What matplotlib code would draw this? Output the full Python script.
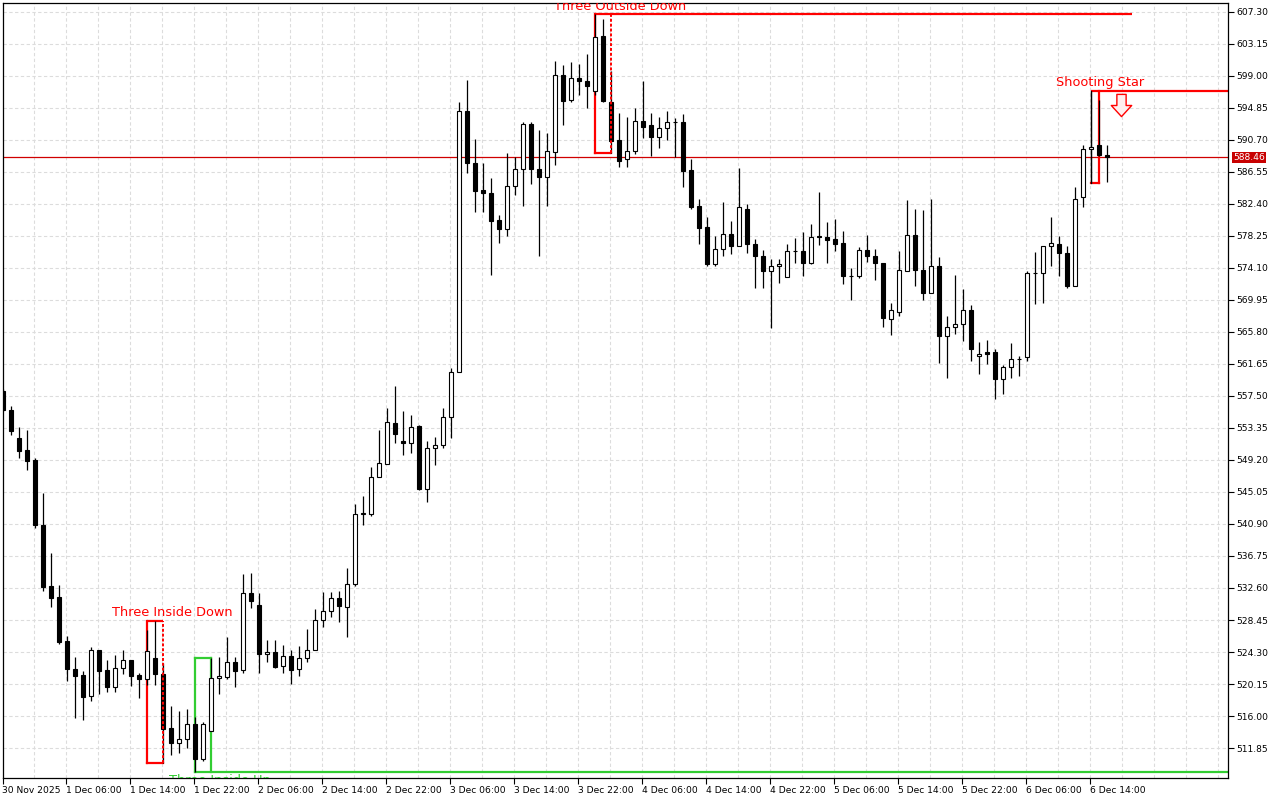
import matplotlib
matplotlib.use("Agg")
import matplotlib.pyplot as plt
from matplotlib.path import Path
import numpy as np

# ---------------- data (H1 candles) ----------------
opens = [558.15, 555.68, 552.0, 550.5, 549.2, 540.77, 532.86, 531.43, 525.73, 522.1,
         521.3, 518.6, 524.6, 522.0, 519.7, 522.2, 523.3, 521.3, 520.76, 523.48,
         521.5, 514.4, 512.5, 513.0, 514.9, 510.38, 514.1, 520.9, 521.0, 522.97,
         522.0, 531.9, 530.4, 524.0, 524.26, 522.5, 523.8, 522.1, 523.5, 524.6,
         528.5, 529.6, 531.3, 530.2, 533.1, 542.2, 542.2, 547.0, 548.7, 554.0,
         551.7, 551.4, 553.6, 545.5, 550.7, 551.2, 554.8, 560.6, 594.46, 587.68,
         584.2, 583.8, 580.3, 579.2, 584.7, 587.0, 592.8, 587.0, 585.9, 589.1,
         599.1, 595.9, 598.8, 598.3, 597.06, 604.2, 595.6, 590.7, 588.2, 589.3,
         593.2, 592.6, 591.1, 592.2, 593.0, 593.0, 586.8, 582.1, 579.4, 574.6,
         576.6, 578.47, 576.9, 581.8, 577.2, 575.7, 573.75, 574.3, 572.9, 576.3,
         576.3, 574.8, 578.3, 578.1, 577.8, 577.4, 573.0, 573.0, 576.4, 575.6,
         574.8, 567.5, 568.4, 573.7, 578.4, 573.8, 570.9, 574.4, 565.3, 566.4,
         566.9, 568.6, 562.7, 563.2, 563.2, 559.66, 561.2, 562.26, 562.5, 573.4,
         573.4, 576.95, 577.2, 576.1, 571.8, 583.3, 589.5, 590.0, 588.75]
highs = [558.4, 556.2, 553.44, 553.1, 549.4, 544.88, 537.1, 532.99, 526.37, 523.7,
         521.8, 524.9, 524.6, 523.3, 523.9, 524.6, 523.3, 521.6, 527.2, 528.36,
         522.9, 517.3, 516.6, 516.9, 515.9, 515.2, 523.56, 523.6, 526.2, 523.7,
         534.4, 534.5, 531.9, 525.9, 525.85, 525.2, 524.5, 525.1, 527.3, 529.9,
         532.1, 532.1, 532.2, 535.2, 543.5, 544.5, 548.3, 553.1, 555.9, 558.8,
         555.6, 555.1, 553.7, 551.7, 552.2, 556.0, 561.1, 595.67, 598.5, 590.8,
         587.7, 585.8, 581.0, 589.0, 588.5, 593.0, 593.0, 592.0, 591.6, 600.9,
         600.4, 600.8, 600.6, 601.9, 607.0, 606.4, 599.6, 594.2, 593.7, 594.8,
         598.3, 594.2, 593.7, 594.4, 593.5, 594.1, 588.2, 583.0, 580.7, 578.2,
         582.6, 580.2, 587.1, 582.4, 577.9, 576.4, 575.3, 575.3, 577.2, 578.0,
         578.8, 579.8, 583.9, 580.0, 580.4, 578.9, 574.1, 576.8, 578.4, 576.6,
         574.8, 569.5, 576.3, 582.9, 581.75, 581.6, 583.05, 575.5, 567.9, 573.2,
         571.4, 569.3, 564.5, 564.8, 563.6, 561.5, 564.35, 562.7, 573.75, 576.2,
         577.0, 580.7, 578.2, 576.9, 584.57, 590.1, 597.0, 595.9, 590.1]
lows = [555.5, 552.44, 549.5, 547.9, 540.4, 532.25, 530.17, 525.34, 520.58, 515.7,
        515.5, 518.0, 518.8, 519.1, 519.1, 521.4, 519.9, 518.3, 520.0, 520.0,
        509.87, 511.0, 511.2, 511.8, 508.8, 510.2, 514.0, 518.9, 520.8, 519.7,
        521.6, 530.0, 521.6, 523.0, 522.26, 521.6, 520.2, 521.2, 523.0, 524.5,
        527.6, 528.9, 528.2, 526.3, 532.8, 540.77, 542.0, 547.0, 548.7, 551.4,
        549.8, 550.07, 545.3, 543.7, 548.6, 550.8, 552.1, 560.6, 586.38, 581.4,
        581.4, 573.2, 577.4, 578.2, 583.6, 582.2, 585.0, 575.6, 582.2, 587.4,
        592.7, 595.6, 596.5, 594.8, 596.5, 595.6, 589.05, 587.2, 587.2, 588.9,
        590.9, 588.6, 589.7, 590.7, 588.45, 584.6, 581.7, 577.2, 574.3, 574.4,
        575.6, 575.9, 576.9, 576.0, 571.5, 571.5, 566.35, 572.2, 572.9, 574.7,
        573.0, 574.6, 577.1, 574.8, 576.3, 572.0, 569.9, 572.8, 574.9, 572.5,
        566.4, 565.4, 567.9, 573.7, 571.8, 569.9, 570.9, 561.8, 559.87, 565.5,
        564.6, 562.1, 560.4, 561.7, 557.1, 557.8, 559.87, 560.1, 562.1, 569.4,
        569.5, 574.4, 573.1, 571.5, 571.8, 582.05, 585.07, 588.6, 585.3]
closes = [555.68, 553.0, 550.4, 549.1, 540.77, 532.77, 531.35, 525.63, 522.06, 521.2,
          518.5, 524.6, 521.9, 519.7, 522.2, 523.2, 521.2, 520.8, 524.43, 521.5,
          514.27, 512.5, 513.0, 514.9, 510.38, 514.92, 520.9, 521.2, 522.97, 521.9,
          531.9, 530.9, 524.0, 524.26, 522.4, 523.8, 521.96, 523.5, 524.6, 528.5,
          529.6, 531.3, 530.3, 533.1, 542.2, 542.35, 547.0, 548.8, 554.1, 552.6,
          551.4, 553.5, 545.4, 550.7, 551.2, 554.8, 560.6, 594.46, 587.68, 584.1,
          583.8, 580.2, 579.2, 584.7, 587.0, 592.8, 587.0, 585.86, 589.27, 599.1,
          595.8, 598.8, 598.3, 597.7, 604.0, 595.7, 590.6, 588.0, 589.3, 593.1,
          592.4, 591.1, 592.2, 593.0, 593.05, 586.7, 582.05, 579.3, 574.6, 576.6,
          578.47, 576.9, 582.0, 577.2, 575.6, 573.75, 574.4, 574.6, 576.3, 576.35,
          574.7, 578.1, 578.1, 577.7, 577.2, 573.0, 573.0, 576.4, 575.6, 574.8,
          567.6, 568.6, 573.85, 578.4, 573.8, 570.9, 574.4, 565.3, 566.4, 566.8,
          568.6, 563.6, 563.0, 563.0, 559.66, 561.2, 562.26, 562.3, 573.4, 573.5,
          576.95, 577.3, 576.1, 571.8, 583.1, 589.5, 589.8, 588.75, 588.46]

time_labels = ["30 Nov 2025", "1 Dec 06:00", "1 Dec 14:00", "1 Dec 22:00",
               "2 Dec 06:00", "2 Dec 14:00", "2 Dec 22:00", "3 Dec 06:00",
               "3 Dec 14:00", "3 Dec 22:00", "4 Dec 06:00", "4 Dec 14:00",
               "4 Dec 22:00", "5 Dec 06:00", "5 Dec 14:00", "5 Dec 22:00",
               "6 Dec 06:00", "6 Dec 14:00"]
label_step = 8                      # one label every 8 candles
price_ticks = [511.85 + 4.15 * k for k in range(24)]
current_price = 588.46

# patterns: name, first candle, last candle, low, high
pattern_names = ["Three Inside Down", "Three Inside Up", "Three Outside Down", "Shooting Star"]
pattern_start = [18, 24, 74, 136]
pattern_end = [20, 26, 76, 137]
pattern_low = [509.87, 508.78, 589.05, 585.07]
pattern_high = [528.36, 523.50, 607.0, 597.0]

# ---------------- drawing ----------------
RED = "#ff0000"
GREEN = "#32cd32"

fig = plt.figure(figsize=(12.8, 8.0), dpi=100)
W, H = 1280.0, 800.0
ax = fig.add_axes([2.5 / W, 1 - 778 / H, (1228 - 2.5) / W, (778 - 2.5) / H])

n = len(opens)
x = np.arange(n)
o = np.array(opens); h = np.array(highs); l = np.array(lows); c = np.array(closes)

ax.set_xlim(-0.1, 153.09)
ax.set_ylim(507.96, 608.53)

# grid
ax.set_yticks(price_ticks)
ax.set_yticklabels([f"{v:.2f}" for v in price_ticks])
for v in price_ticks:
    ax.axhline(v, color="#dcdcdc", lw=0.8, ls=(0, (3, 2.2)), zorder=0)
for gx in np.arange(4, 154, 4):
    ax.axvline(gx - 0.1, color="#dcdcdc", lw=0.8, ls=(0, (3, 2.2)), zorder=0)

# current price line
ax.axhline(current_price, color="#d00000", lw=0.9, zorder=1)

# pattern boxes
right_end = {"Three Outside Down": 141.1, "Shooting Star": 153.2, "Three Inside Up": 153.2}
for name, s, e, lo, hi in zip(pattern_names, pattern_start, pattern_end, pattern_low, pattern_high):
    col = GREEN if "Up" in name else RED
    bear = "Up" not in name
    lw = 1.6
    if bear:
        top_end = right_end.get(name, e)
        ax.plot([s, top_end], [hi, hi], color=col, lw=lw, zorder=2, solid_capstyle="butt")
        ax.plot([s, e], [lo, lo], color=col, lw=lw, zorder=2)
        if name == "Shooting Star":
            ax.plot([e, e], [lo, hi], color=col, lw=lw, zorder=2)
            ax.plot([s, s], [lo, hi], color="black", lw=0.9, zorder=2)
        else:
            ax.plot([s, s], [lo, hi], color=col, lw=lw, zorder=2)
            ax.plot([e, e], [lo, hi], color=col, lw=1.4, ls=(0, (1.5, 1)), zorder=4)
    else:
        ax.plot([s, right_end[name]], [lo, lo], color=col, lw=lw, zorder=2)
        ax.plot([s, s], [lo, hi], color=col, lw=lw, zorder=2)
        ax.plot([e, e], [lo, hi], color=col, lw=lw, zorder=2)
        ax.plot([s, e], [hi, hi], color=col, lw=lw, zorder=2)

# candles
ax.vlines(x, l, h, color="black", lw=0.9, zorder=3)
up = c >= o
bottoms = np.minimum(o, c)
heights = np.abs(c - o)
ax.bar(x[up], heights[up], bottom=bottoms[up], width=0.55, color="white",
       edgecolor="black", linewidth=0.8, zorder=3.5)
ax.bar(x[~up], heights[~up], bottom=bottoms[~up], width=0.55, color="black",
       edgecolor="black", linewidth=0.8, zorder=3.5)

# pattern labels
fs = 9.3
ax.text(21.1, 528.6, pattern_names[0], color=RED, ha="center", va="bottom", fontsize=fs, zorder=5, clip_on=True)
ax.text(27.1, 508.45, pattern_names[1], color=GREEN, ha="center", va="top", fontsize=fs, zorder=5, clip_on=True)
ax.text(77.1, 607.2, pattern_names[2], color=RED, ha="center", va="bottom", fontsize=fs, zorder=5, clip_on=True)
ax.text(137.1, 597.3, pattern_names[3], color=RED, ha="center", va="bottom", fontsize=fs, zorder=5, clip_on=True)

# hollow down arrow marker for the bearish signal
arrow = Path([(-0.25, 0.6), (0.25, 0.6), (0.25, 0.0), (0.55, 0.0), (0.0, -0.6),
              (-0.55, 0.0), (-0.25, 0.0), (-0.25, 0.6)],
             [Path.MOVETO] + [Path.LINETO] * 6 + [Path.CLOSEPOLY])
ax.plot([139.75], [595.3], marker=arrow, markersize=16, mfc="#fff0f0", mec=RED,
        mew=1.0, ls="none", zorder=5)

# axes styling
for sp in ax.spines.values():
    sp.set_color("black")
    sp.set_linewidth(0.9)
ax.yaxis.tick_right()
ax.tick_params(axis="y", direction="out", length=4, width=0.8, pad=2,
               labelsize=6.6, colors="black")
ticks_x = [i * label_step - 0.1 for i in range(len(time_labels))]
ax.set_xticks(ticks_x)
ax.set_xticklabels(time_labels)
ax.tick_params(axis="x", direction="out", length=4, width=0.8, pad=1.5,
               labelsize=6.6, colors="black")
for t in ax.get_xticklabels():
    t.set_ha("left")

ax.text(1.0045, current_price, f"{current_price:.2f}", transform=ax.get_yaxis_transform(),
        va="center", ha="left", color="white", fontsize=6.6, clip_on=False, zorder=6,
        bbox=dict(boxstyle="square,pad=0.12", fc="#c80000", ec="none"))

fig.savefig("out.png", dpi=100, facecolor="white")
